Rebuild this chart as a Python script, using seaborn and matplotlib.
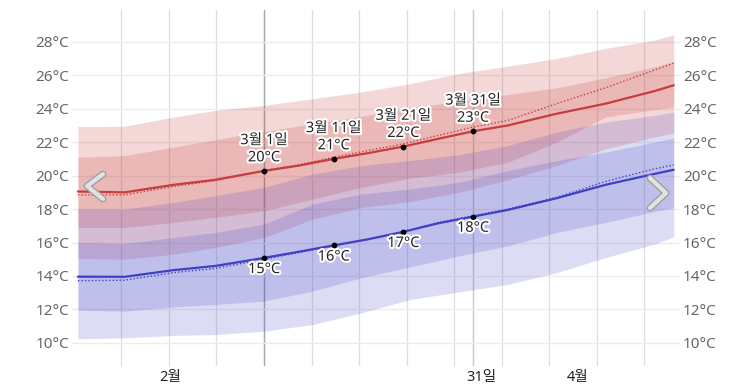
import matplotlib.pyplot as plt
import matplotlib.patheffects as pe
import pandas as pd
import seaborn as sns

# day of year (Jan 1 = 0)
band_days = [32.3, 39, 46, 52, 59, 66, 73, 80, 87, 94, 101, 108, 115, 117.8]
hi_p90 = [22.93, 22.95, 23.5, 23.9, 24.2, 24.6, 25.0, 25.5, 26.1, 26.55, 27.0, 27.6, 28.1, 28.42]
hi_p75 = [21.1, 21.2, 21.7, 22.15, 22.64, 23.1, 23.55, 24.05, 24.45, 24.85, 25.25, 25.85, 26.5, 26.82]
hi_p25 = [16.9, 16.9, 17.2, 17.5, 17.9, 18.6, 19.3, 19.85, 20.2, 20.8, 22.0, 23.5, 23.95, 24.1]
hi_p10 = [15.05, 15.0, 15.3, 15.7, 16.3, 17.4, 18.1, 18.45, 19.0, 19.75, 20.6, 21.6, 22.3, 22.55]
lo_p90 = [18.0, 18.0, 18.4, 18.8, 19.3, 20.1, 20.6, 20.9, 21.25, 21.8, 22.6, 23.2, 23.6, 23.8]
lo_p75 = [16.0, 15.95, 16.3, 16.6, 17.1, 18.3, 18.9, 19.2, 19.6, 20.3, 20.9, 21.4, 22.0, 22.25]
lo_p25 = [11.95, 11.9, 12.15, 12.3, 12.5, 13.1, 13.9, 14.55, 15.2, 15.8, 16.6, 17.2, 17.85, 18.07]
lo_p10 = [10.25, 10.3, 10.45, 10.5, 10.7, 11.1, 11.8, 12.6, 13.05, 13.5, 14.2, 15.1, 15.9, 16.35]

line_days = [32.3, 39, 46, 52, 59, 64, 69, 74, 79, 84, 89, 94, 101, 108, 115, 117.8]
hi_avg = [19.05, 19.0, 19.45, 19.75, 20.28, 20.6, 21.0, 21.35, 21.74, 22.2, 22.65, 23.0, 23.7, 24.3, 25.05, 25.4]
hi_fcst = [18.85, 18.85, 19.35, 19.7, 20.3, 20.65, 21.1, 21.5, 21.9, 22.4, 22.9, 23.3, 24.3, 25.25, 26.3, 26.73]
lo_avg = [13.96, 13.95, 14.35, 14.6, 15.08, 15.45, 15.83, 16.2, 16.64, 17.15, 17.55, 17.95, 18.65, 19.45, 20.1, 20.35]
lo_fcst = [13.72, 13.75, 14.2, 14.45, 15.0, 15.4, 15.8, 16.2, 16.65, 17.2, 17.6, 18.0, 18.7, 19.65, 20.4, 20.64]

mark_days = [59, 69, 79, 89]
mark_dates = ["3월 1일", "3월 11일", "3월 21일", "3월 31일"]
mark_hi = [20.28, 21.0, 21.74, 22.65]
mark_lo = [15.08, 15.83, 16.64, 17.55]
mark_hi_text = ["20°C", "21°C", "22°C", "23°C"]
mark_lo_text = ["15°C", "16°C", "17°C", "18°C"]

month_days = [45.5, 90.2, 104]
month_labels = ["2월", "31일", "4월"]
y_ticks = [10, 12, 14, 16, 18, 20, 22, 24, 26, 28]

RED = "#c83c3c"
BLUE = "#4040c4"

sns.set_theme(style="white")
plt.rcParams["font.family"] = ["Noto Sans", "Noto Sans CJK KR", "DejaVu Sans"]

lines = pd.DataFrame({
    "day": line_days * 4,
    "temp": hi_avg + hi_fcst + lo_avg + lo_fcst,
    "series": ["hi"] * len(line_days) + ["hi_f"] * len(line_days)
    + ["lo"] * len(line_days) + ["lo_f"] * len(line_days),
})

fig = plt.figure(figsize=(7.53, 3.87), dpi=100)
ax = fig.add_axes([72 / 753, 1 - 366 / 387, 608 / 753, 356 / 387])

# weekly vertical grid and horizontal grid
for k in range(-3, 9):
    d = 59 + k * 6.82
    ax.axvline(d, color="#dedede", lw=0.9, zorder=0)
ax.axvline(59, color="#a8a8a8", lw=1.0, zorder=0)
ax.axvline(89, color="#c8c8c8", lw=1.0, zorder=0)
for t in y_ticks:
    ax.axhline(t, color="#ececec", lw=1.0, zorder=0)

# percentile bands
ax.fill_between(band_days, hi_p10, hi_p90, color=RED, alpha=0.2, lw=0, zorder=1)
ax.fill_between(band_days, hi_p25, hi_p75, color=RED, alpha=0.2, lw=0, zorder=1)
ax.fill_between(band_days, lo_p10, lo_p90, color=BLUE, alpha=0.18, lw=0, zorder=1)
ax.fill_between(band_days, lo_p25, lo_p75, color=BLUE, alpha=0.18, lw=0, zorder=1)

sns.lineplot(data=lines[lines.series == "hi"], x="day", y="temp", color=RED, lw=1.6, ax=ax, zorder=3)
sns.lineplot(data=lines[lines.series == "lo"], x="day", y="temp", color=BLUE, lw=1.6, ax=ax, zorder=3)
sns.lineplot(data=lines[lines.series == "hi_f"], x="day", y="temp", color=RED, lw=1.0,
             linestyle=(0, (1, 1.5)), ax=ax, zorder=3)
sns.lineplot(data=lines[lines.series == "lo_f"], x="day", y="temp", color=BLUE, lw=1.0,
             linestyle=(0, (1, 1.5)), ax=ax, zorder=3)

ax.scatter(mark_days, mark_hi, s=10, color="black", zorder=5)
ax.scatter(mark_days, mark_lo, s=10, color="black", zorder=5)

halo = [pe.withStroke(linewidth=3, foreground="white")]
for d, yh, yl, lab, th, tl in zip(mark_days, mark_hi, mark_lo, mark_dates, mark_hi_text, mark_lo_text):
    ax.annotate(f"{lab}\n{th}", (d, yh), xytext=(0, 4), textcoords="offset points",
                ha="center", va="bottom", fontsize=10.5, color="#222222",
                linespacing=1.2, path_effects=halo, zorder=6)
    ax.annotate(tl, (d, yl), xytext=(0, -3), textcoords="offset points",
                ha="center", va="top", fontsize=10.5, color="#222222",
                path_effects=halo, zorder=6)

# navigation chevrons
for pts in ([(0.051, 0.539), (0.0247, 0.5056), (0.051, 0.469)],
            [(0.9507, 0.528), (0.977, 0.486), (0.9507, 0.444)]):
    xs, ys = zip(*pts)
    ax.plot(xs, ys, transform=ax.transAxes, color="#a0a0a0", lw=5,
            solid_capstyle="round", solid_joinstyle="round", zorder=7)
    ax.plot(xs, ys, transform=ax.transAxes, color="#e2e2e2", lw=3,
            solid_capstyle="round", solid_joinstyle="round", zorder=8)

ax.set_xlim(31.45, 118.7)
ax.set_ylim(8.62, 29.9)
ax.set_yticks(y_ticks)
ax.set_yticklabels([f"{t}°C" for t in y_ticks])
ax.tick_params(axis="y", which="both", length=0, pad=2, labelsize=11, labelcolor="#666666",
               left=True, right=True, labelleft=True, labelright=True)
ax.set_xticks([])
ax.set_xlabel("")
ax.set_ylabel("")
for s in ax.spines.values():
    s.set_visible(False)

for d, lab in zip(month_days, month_labels):
    ax.text(d, -0.031, lab, transform=ax.get_xaxis_transform(), ha="center", va="center",
            fontsize=10.5, color="#222222")

fig.savefig("out.png", dpi=100)
